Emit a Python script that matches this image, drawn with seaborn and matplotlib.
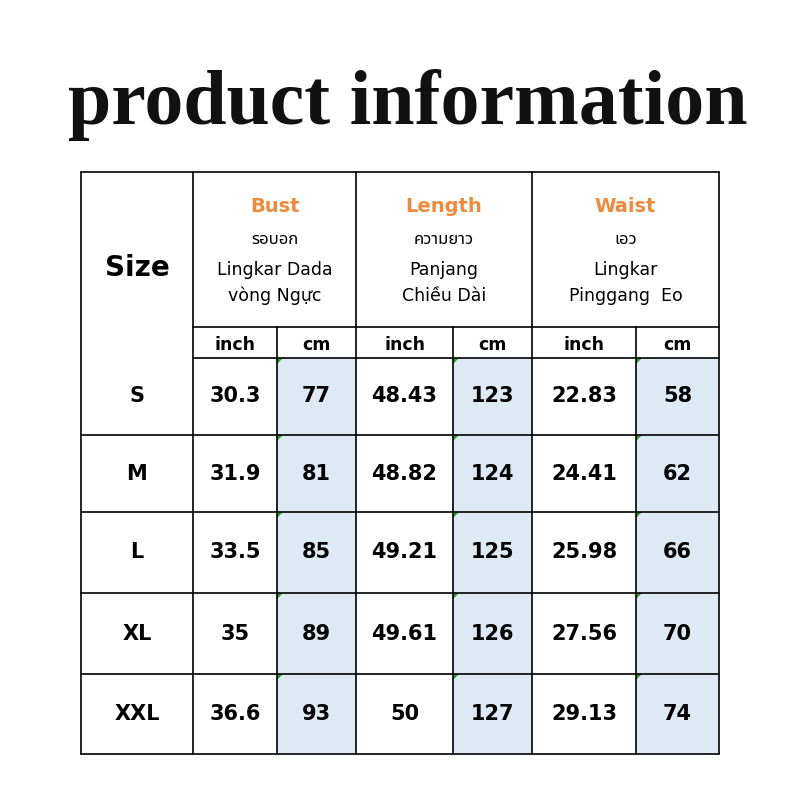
import matplotlib
matplotlib.use("Agg")
import matplotlib.pyplot as plt
import seaborn as sns
from matplotlib.patches import Rectangle, Polygon

sizes = ["S", "M", "L", "XL", "XXL"]
bust_in = ["30.3", "31.9", "33.5", "35", "36.6"]
bust_cm = ["77", "81", "85", "89", "93"]
length_in = ["48.43", "48.82", "49.21", "49.61", "50"]
length_cm = ["123", "124", "125", "126", "127"]
waist_in = ["22.83", "24.41", "25.98", "27.56", "29.13"]
waist_cm = ["58", "62", "66", "70", "74"]
groups = [("Bust", "รอบอก", "Lingkar Dada\nvòng Ngực"),
          ("Length", "ความยาว", "Panjang\nChiều Dài"),
          ("Waist", "เอว", "Lingkar\nPinggang  Eo")]

sns.set_style("white")
fams = ['DejaVu Sans', 'Noto Sans Thai', 'Noto Sans Thai UI', 'Noto Serif Thai',
        'Loma', 'Garuda', 'Norasi', 'Kinnari', 'Waree', 'Sawasdee', 'Umpush',
        'TlwgTypo', 'Noto Sans', 'Noto Sans CJK SC']
plt.rcParams['font.family'] = fams
plt.rcParams['text.color'] = 'black'

fig = plt.figure(figsize=(8, 8), dpi=100)
ax = fig.add_axes([0, 0, 1, 1])
ax.set_xlim(0, 800)
ax.set_ylim(800, 0)
ax.axis("off")

ax.text(408, 105, "product information", ha="center", va="center",
        fontsize=56, fontweight="bold", family="Liberation Serif", color="#111111")

xs = [81, 193, 277, 356, 453, 532, 636, 719]
ys = [172, 327, 358, 435, 512, 593, 674, 754]
blue = "#dfe9f4"
orange = "#ee8a3c"

# blue cm cells with the small green corner mark
for ci in (2, 4, 6):
    for ri in range(2, 7):
        ax.add_patch(Rectangle((xs[ci], ys[ri]), xs[ci + 1] - xs[ci],
                               ys[ri + 1] - ys[ri], color=blue, lw=0))
        ax.add_patch(Polygon([(xs[ci], ys[ri]), (xs[ci] + 6, ys[ri]),
                              (xs[ci], ys[ri] + 6)], color="#2a9a2a", lw=0))

lw = 1.2
for y in [172, 754, 435, 512, 593, 674]:
    ax.plot([81, 719], [y, y], color="black", lw=lw)
for y in [327, 358]:
    ax.plot([193, 719], [y, y], color="black", lw=lw)
for x in [81, 193, 356, 532, 719]:
    ax.plot([x, x], [172, 754], color="black", lw=lw)
for x in [277, 453, 636]:
    ax.plot([x, x], [327, 754], color="black", lw=lw)

ax.text(137, 268, "Size", ha="center", va="center", fontsize=20, fontweight="bold")
for gi, (name, thai, rest) in enumerate(groups):
    a, m, b = xs[2 * gi + 1], xs[2 * gi + 2], xs[2 * gi + 3]
    cx = (a + b) / 2
    ax.text(cx, 207, name, ha="center", va="center", fontsize=14,
            fontweight="bold", color=orange)
    ax.text(cx, 239, thai, ha="center", va="center", fontsize=12,
            fontweight="bold" if gi == 2 else "normal")
    ax.text(cx, 283, rest, ha="center", va="center", fontsize=12.5,
            linespacing=1.55)
    ax.text((a + m) / 2, 345, "inch", ha="center", va="center",
            fontsize=12.5, fontweight="bold")
    ax.text((m + b) / 2, 345, "cm", ha="center", va="center",
            fontsize=12.5, fontweight="bold")

cols = [sizes, bust_in, bust_cm, length_in, length_cm, waist_in, waist_cm]
for ci, col in enumerate(cols):
    cx = (xs[ci] + xs[ci + 1]) / 2
    for ri, val in enumerate(col):
        cy = (ys[ri + 2] + ys[ri + 3]) / 2
        ax.text(cx, cy, val, ha="center", va="center", fontsize=15,
                fontweight="bold")

fig.savefig("out.png", dpi=100, facecolor="white")
